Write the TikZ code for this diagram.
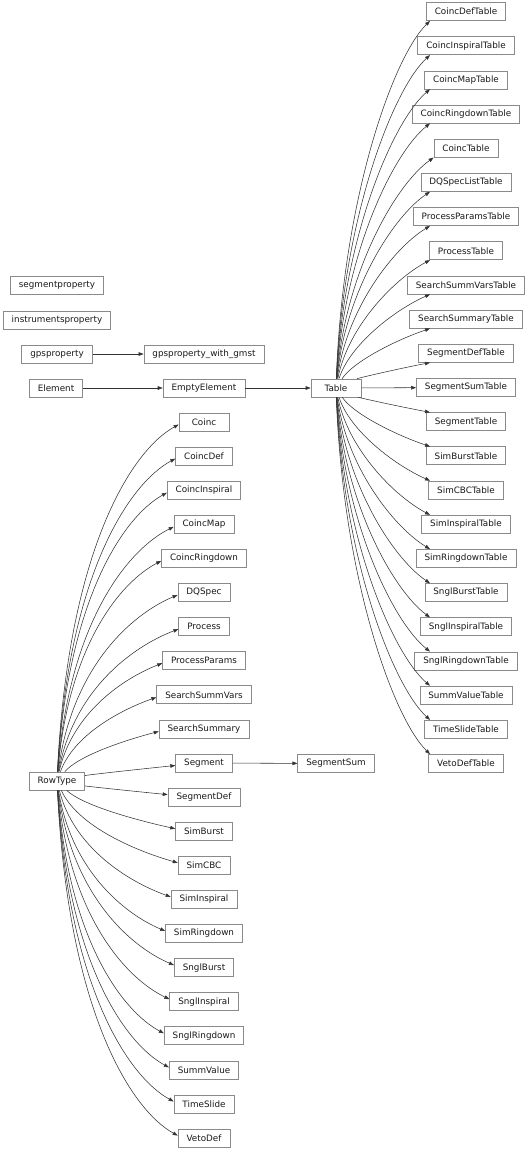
\documentclass[tikz,border=0pt]{standalone}
\usepackage{fontspec}
\setmainfont{DejaVu Sans}
\usetikzlibrary{arrows.meta}
\definecolor{boxgray}{HTML}{8A8A8A}
\definecolor{edgegray}{HTML}{333333}
\tikzset{
  box/.style={draw=boxgray, line width=0.7pt, minimum width=50pt, minimum height=18pt,
    inner xsep=8.5pt, inner ysep=0pt, font=\fontsize{8.8}{10}\selectfont, text=black!90},
  edge/.style={draw=edgegray, line width=0.55pt, -{Triangle[length=5pt,width=3.6pt]}},
}
\begin{document}
\begin{tikzpicture}[x=1pt,y=-1pt]
\useasboundingbox (0,0) rectangle (529,1152);
% left column
\node[box] (segmentproperty) at (57,285) {segmentproperty};
\node[box] (instrumentsproperty) at (57,320) {instrumentsproperty};
\node[box] (gpsproperty) at (57,354) {gpsproperty};
\node[box] (gpsproperty_with_gmst) at (204,354) {gpsproperty\_with\_gmst};
\node[box] (Element) at (56,388) {Element};
\node[box] (EmptyElement) at (204,388) {EmptyElement};
\node[box] (Table) at (336,388) {Table};
\node[box] (RowType) at (57,781) {RowType};
\node[box] (SegmentSum) at (336,763.5) {SegmentSum};
% right column
\foreach \n [count=\i from 0] in {CoincDefTable,CoincInspiralTable,CoincMapTable,CoincRingdownTable,CoincTable,DQSpecListTable,ProcessParamsTable,ProcessTable,SearchSummVarsTable,SearchSummaryTable,SegmentDefTable,SegmentSumTable,SegmentTable,SimBurstTable,SimCBCTable,SimInspiralTable,SimRingdownTable,SnglBurstTable,SnglInspiralTable,SnglRingdownTable,SummValueTable,TimeSlideTable,VetoDefTable}
  \node[box] (\n) at (466,{11.5+34.18*\i}) {\n};
% middle column
\foreach \n [count=\i from 0] in {Coinc,CoincDef,CoincInspiral,CoincMap,CoincRingdown,DQSpec,Process,ProcessParams,SearchSummVars,SearchSummary,Segment,SegmentDef,SimBurst,SimCBC,SimInspiral,SimRingdown,SnglBurst,SnglInspiral,SnglRingdown,SummValue,TimeSlide,VetoDef}
  \node[box] (\n) at (204,{422+34.1*\i}) {\n};
% straight edges
\draw[edge] (gpsproperty) -- (gpsproperty_with_gmst);
\draw[edge] (Element) -- (EmptyElement);
\draw[edge] (EmptyElement) -- (Table);
\draw[edge] (Table) -- (SegmentSumTable);
\draw[edge] (Segment) -- (SegmentSum);
% Table fan
\foreach \n in {CoincDefTable,CoincInspiralTable,CoincMapTable,CoincRingdownTable,CoincTable,DQSpecListTable,ProcessParamsTable,ProcessTable,SearchSummVarsTable,SearchSummaryTable,SegmentDefTable,SegmentTable,SimBurstTable,SimCBCTable,SimInspiralTable,SimRingdownTable,SnglBurstTable,SnglInspiralTable,SnglRingdownTable,SummValueTable,TimeSlideTable,VetoDefTable}{
  \path (Table.center); \pgfgetlastxy{\qsx}{\qsy}
  \path (\n.south west); \pgfgetlastxy{\qlx}{\qby}
  \path (\n.north east); \pgfgetlastxy{\qrx}{\qty}
  \path (\n.center); \pgfgetlastxy{\qcx}{\qcy}
  \pgfmathsetmacro\qdy{\qcy-\qsy}
  \pgfmathsetmacro\qex{max(\qlx,430)}
  \pgfmathsetmacro\qey{\qdy>0 ? \qby : \qty}
  \pgfmathsetmacro\qDX{\qex-\qsx}
  \pgfmathsetmacro\qDY{\qey-\qsy}
  \pgfmathsetmacro\qr{abs(\qDY)/(abs(\qDY)+60)}
  \pgfmathsetmacro\qax{\qsx+\qDX*((1-\qr)/3+0.03*\qr)}
  \pgfmathsetmacro\qay{\qsy+\qDY*((1-\qr)/3+0.55*\qr)}
  \pgfmathsetmacro\qbx{\qex-\qDX*((1-\qr)/3+0.4*\qr)}
  \pgfmathsetmacro\qbb{\qey-\qDY*((1-\qr)/3+0.06*\qr)}
  \draw[edge] (Table) .. controls (\qax pt,\qay pt) and (\qbx pt,\qbb pt) .. (\qex pt,\qey pt);
}
% RowType fan
\foreach \n in {Coinc,CoincDef,CoincInspiral,CoincMap,CoincRingdown,DQSpec,Process,ProcessParams,SearchSummVars,SearchSummary,Segment,SegmentDef,SimBurst,SimCBC,SimInspiral,SimRingdown,SnglBurst,SnglInspiral,SnglRingdown,SummValue,TimeSlide,VetoDef}{
  \path (RowType.center); \pgfgetlastxy{\qsx}{\qsy}
  \path (\n.west); \pgfgetlastxy{\qlx}{\qcy}
  \pgfmathsetmacro\qdy{\qcy-\qsy}
  \pgfmathsetmacro\qex{\qlx}
  \pgfmathsetmacro\qey{\qcy-2.5*sign(\qdy)}
  \pgfmathsetmacro\qDX{\qex-\qsx}
  \pgfmathsetmacro\qDY{\qey-\qsy}
  \pgfmathsetmacro\qr{abs(\qDY)/(abs(\qDY)+60)}
  \pgfmathsetmacro\qax{\qsx+\qDX*((1-\qr)/3+0.05*\qr)}
  \pgfmathsetmacro\qay{\qsy+\qDY*((1-\qr)/3+0.7*\qr)}
  \pgfmathsetmacro\qbx{\qex-\qDX*((1-\qr)/3+0.4*\qr)}
  \pgfmathsetmacro\qbb{\qey-\qDY*((1-\qr)/3+0.03*\qr)}
  \draw[edge] (RowType) .. controls (\qax pt,\qay pt) and (\qbx pt,\qbb pt) .. (\qex pt,\qey pt);
}
\end{tikzpicture}
\end{document}
